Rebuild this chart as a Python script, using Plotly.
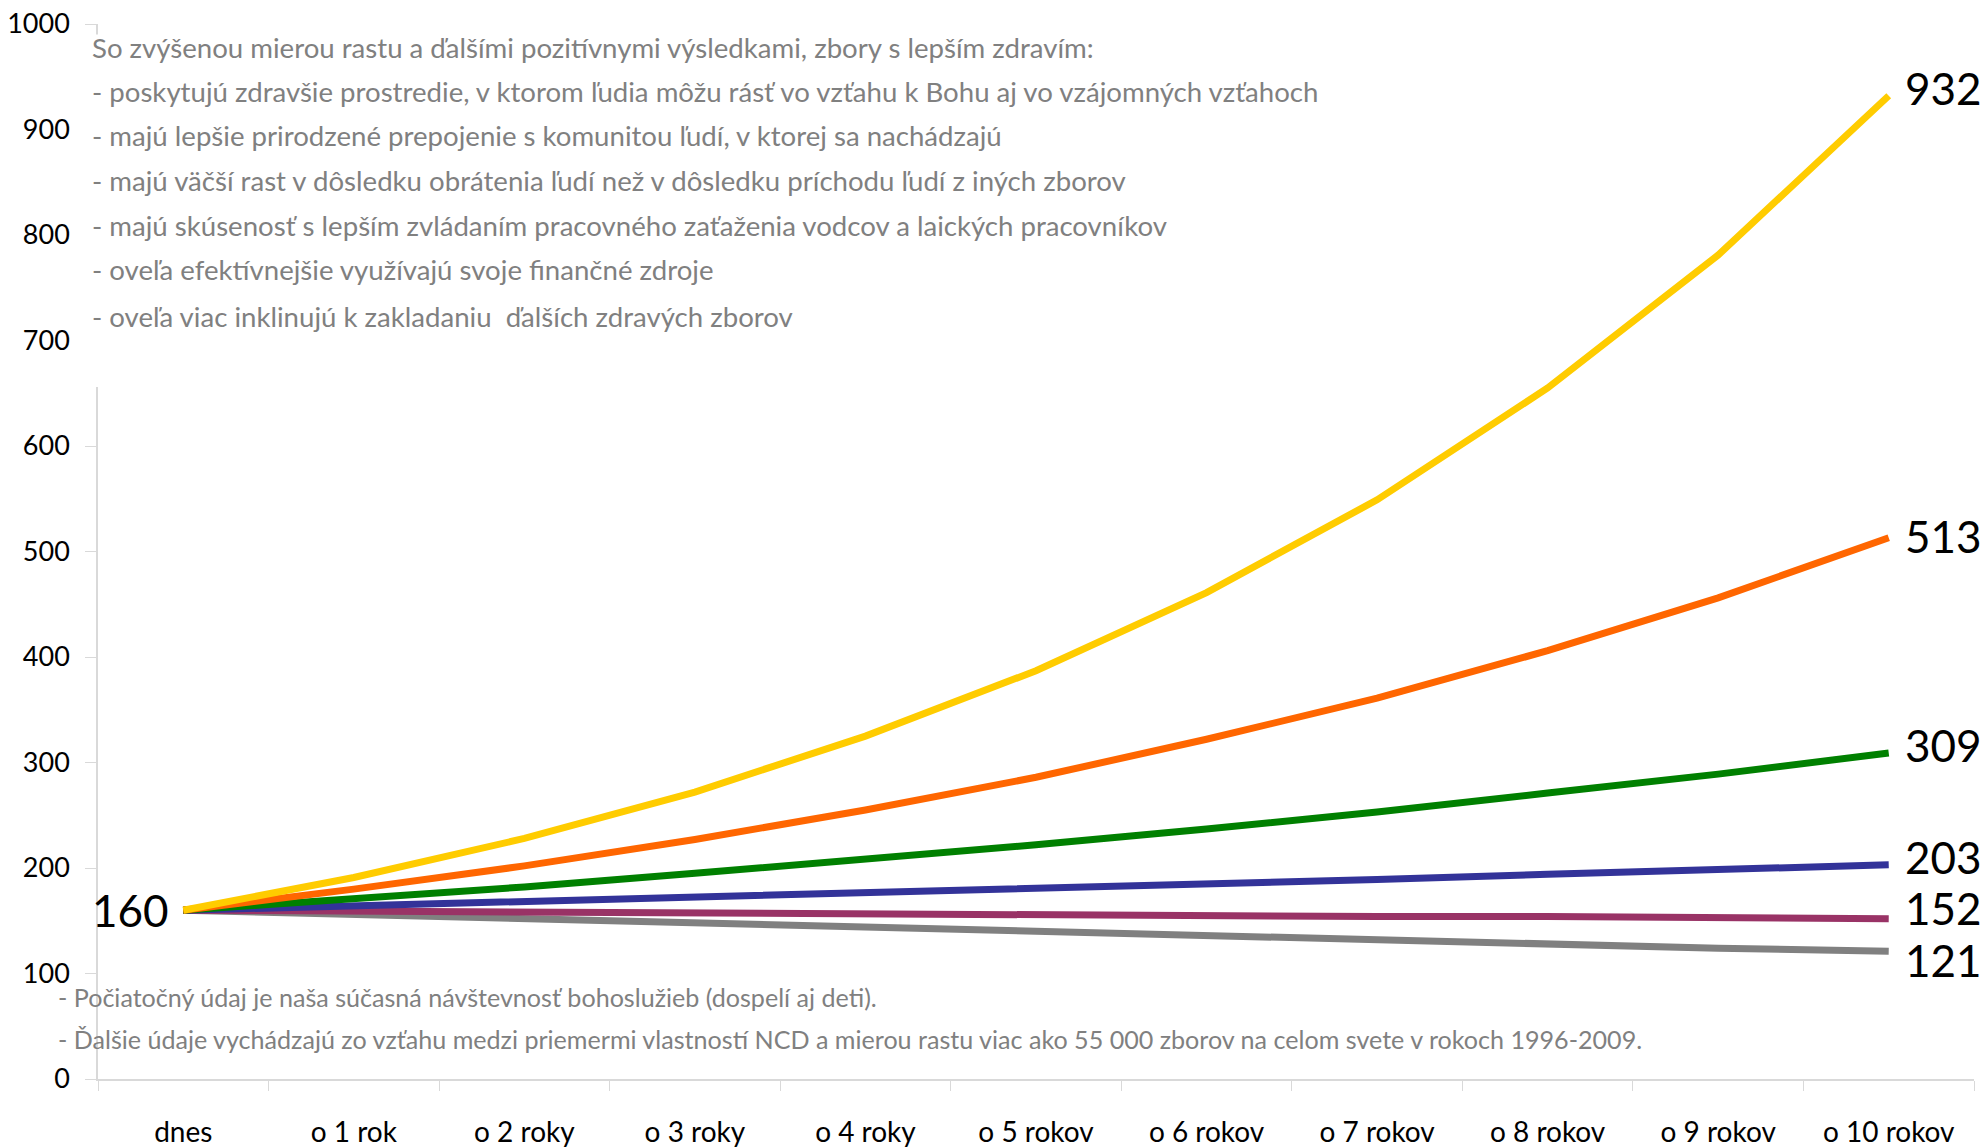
import plotly.graph_objects as go

categories = ["dnes", "o 1 rok", "o 2 roky", "o 3 roky", "o 4 roky", "o 5 rokov",
              "o 6 rokov", "o 7 rokov", "o 8 rokov", "o 9 rokov", "o 10 rokov"]

gray_vals   = [160, 156, 151, 147, 143, 139, 135, 131, 128, 124, 121]
purple_vals = [160, 159, 158, 158, 157, 156, 155, 154, 154, 153, 152]
blue_vals   = [160, 164, 168, 172, 176, 180, 185, 189, 194, 198, 203]
green_vals  = [160, 171, 182, 195, 208, 222, 237, 253, 271, 289, 309]
orange_vals = [160, 180, 202, 227, 255, 286, 322, 361, 406, 456, 513]
yellow_vals = [160, 191, 228, 272, 325, 387, 461, 549, 655, 781, 932]

series = [
    (gray_vals, "#808080"),
    (purple_vals, "#993366"),
    (blue_vals, "#333399"),
    (green_vals, "#008000"),
    (orange_vals, "#FF6600"),
    (yellow_vals, "#FFCC00"),
]

header_lines = [
    "So zvýšenou mierou rastu a ďalšími pozitívnymi výsledkami, zbory s lepším zdravím:",
    "- poskytujú zdravšie prostredie, v ktorom ľudia môžu rásť vo vzťahu k Bohu aj vo vzájomných vzťahoch",
    "- majú lepšie prirodzené prepojenie s komunitou ľudí, v ktorej sa nachádzajú",
    "- majú väčší rast v dôsledku obrátenia ľudí než v dôsledku príchodu ľudí z iných zborov",
    "- majú skúsenosť s lepším zvládaním pracovného zaťaženia vodcov a laických pracovníkov",
    "- oveľa efektívnejšie využívajú svoje finančné zdroje",
    "- oveľa viac inklinujú k zakladaniu  ďalších zdravých zborov",
]
footnotes = [
    "- Počiatočný údaj je naša súčasná návštevnosť bohoslužieb (dospelí aj deti).",
    "- Ďalšie údaje vychádzajú zo vzťahu medzi priemermi vlastností NCD a mierou rastu viac ako 55 000 zborov na celom svete v rokoch 1996-2009.",
]

FONT = "Lato"

fig = go.Figure()
for vals, col in series:
    fig.add_trace(go.Scatter(
        x=categories, y=vals, mode="lines",
        line=dict(color=col, width=7),
        hoverinfo="skip", showlegend=False,
    ))

annotations = []
end_shifts = {932: 8, 513: 2, 309: 8, 203: 8, 152: 11, 121: -9}
for vals, col in series:
    v = vals[-1]
    annotations.append(dict(
        x=categories[-1], y=v, xref="x", yref="y", text=str(v),
        showarrow=False, xanchor="left", yanchor="middle",
        xshift=14, yshift=end_shifts.get(v, 0),
        font=dict(family=FONT, size=44, color="black"),
    ))
annotations.append(dict(
    x=categories[0], y=gray_vals[0], xref="x", yref="y", text=str(gray_vals[0]),
    showarrow=False, xanchor="right", yanchor="middle", xshift=-12,
    font=dict(family=FONT, size=44, color="black"),
))

header_y = [978, 936, 894, 852, 809, 767, 723]
for t, yv in zip(header_lines, header_y):
    annotations.append(dict(
        x=-0.0045, y=yv, xref="paper", yref="y", text=t,
        showarrow=False, xanchor="left", yanchor="middle",
        font=dict(family=FONT, size=27.6, color="#808080"),
    ))
foot_y = [78, 38]
for t, yv in zip(footnotes, foot_y):
    annotations.append(dict(
        x=-0.0225, y=yv, xref="paper", yref="y", text=t,
        showarrow=False, xanchor="left", yanchor="middle",
        font=dict(family=FONT, size=25.1, color="#808080"),
    ))

fig.update_layout(
    width=1988, height=1147,
    margin=dict(l=98, r=14, t=24, b=68),
    paper_bgcolor="white", plot_bgcolor="white",
    annotations=annotations,
    shapes=[dict(type="rect", xref="paper", yref="y",
                 x0=-0.012, x1=0.65, y0=656, y1=990,
                 fillcolor="white", line=dict(width=0), layer="above")],
)
fig.update_xaxes(
    type="category", range=[-0.5, 10.5], automargin=False,
    showline=True, linecolor="#d9d9d9", linewidth=2,
    ticks="outside", ticklen=10, tickcolor="#d9d9d9", tickwidth=1,
    tickson="boundaries", showgrid=False, zeroline=False,
    ticklabelstandoff=27,
    tickfont=dict(family=FONT, size=28, color="black"),
)
fig.update_yaxes(
    range=[0, 1000], dtick=100, automargin=False,
    showline=True, linecolor="#d9d9d9", linewidth=1.5,
    ticks="outside", ticklen=11, tickcolor="#d9d9d9", tickwidth=1,
    showgrid=False, zeroline=False,
    ticklabelstandoff=10,
    tickfont=dict(family=FONT, size=27, color="black"),
)

fig.write_html("out.html", config={"displayModeBar": False},
               post_script="document.body.style.margin='0';")
